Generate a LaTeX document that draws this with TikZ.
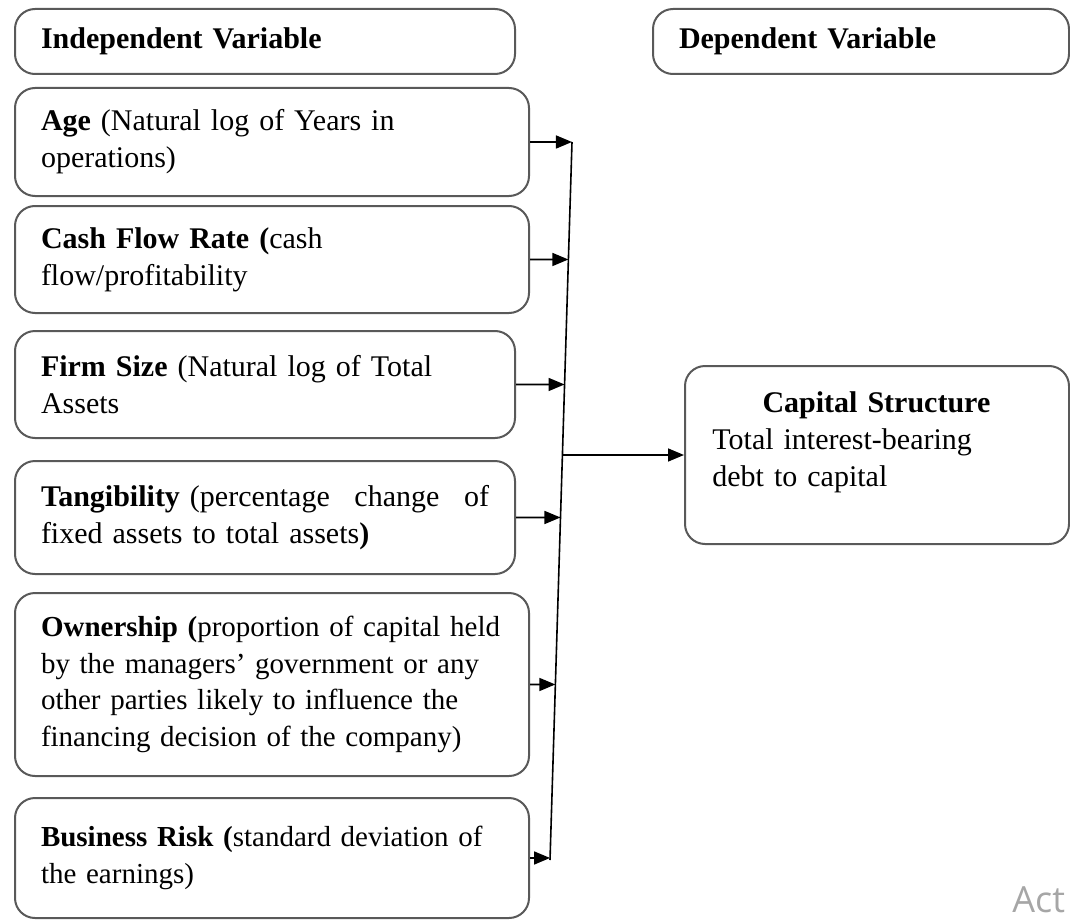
\documentclass[tikz,border=0pt]{standalone}
\usepackage{fontspec}
\setmainfont{Liberation Serif}
\newfontfamily\markfont{Open Sans}
\usetikzlibrary{arrows.meta}

\begin{document}
\begin{tikzpicture}[x=0.5pt,y=-0.5pt]
\tikzstyle{varbox}=[draw=black!65,line width=1pt,rounded corners=10pt,anchor=north west,inner xsep=13pt,inner ysep=0pt,align=left,font=\fontsize{15}{18.5}\selectfont]
\tikzstyle{wide}=[text width=231pt]
\tikzstyle{narrow}=[text width=224pt]
\tikzstyle{smalltext}=[font=\fontsize{14.5}{18.3}\selectfont]
\tikzstyle{arrow}=[line width=0.8pt,-{Triangle[length=8pt,width=6.5pt]}]
\useasboundingbox (0,0) rectangle (1070,920);
% headers
\node [varbox,narrow,minimum height=32.5pt] at (14,8) (indep) {\textbf{Independent Variable}};
\node [varbox,text width=182pt,minimum height=32.5pt] at (652,8) (dep) {\textbf{Dependent Variable}};
% independent variables
\node [varbox,wide,minimum height=54pt] at (14,87) (age) {\textbf{Age} (Natural log of Years in\\operations)};
\node [varbox,wide,minimum height=53.5pt] at (14,205) (cash) {\textbf{Cash Flow Rate (}cash\\flow/profitability};
\node [varbox,narrow,minimum height=53.5pt] at (14,330) (size) {\textbf{Firm Size} (Natural log of Total\\Assets};
\node [varbox,narrow,minimum height=56.5pt] at (14,460) (tang) {\textbf{Tangibility} (percentage\hfill change\hfill of\\fixed assets to total assets\textbf{)}};
\node [varbox,wide,smalltext,minimum height=91.5pt] at (14,592) (own) {\textbf{Ownership (}proportion of capital held\\by the managers’ government or any\\other parties likely to influence the\\financing decision of the company)};
\node [varbox,wide,smalltext,minimum height=60pt] at (14,797) (risk) {\textbf{Business Risk (}standard deviation of\\the earnings)};
% dependent variable
\node [varbox,text width=166pt,minimum height=89pt] at (684,365) (cap) {};
\node [anchor=north west,inner sep=0pt,text width=164pt,align=left,font=\fontsize{15}{18.5}\selectfont] at (712,391) (captext) {\makebox[164pt]{\textbf{Capital Structure}}\\Total interest-bearing\\debt to capital};
% connectors
\coordinate (ltop) at (572,142);
\coordinate (lbot) at (550,860);
\draw [line width=0.8pt] (ltop) -- (lbot);
\draw [arrow] (age.east) -- (intersection of ltop--lbot and age.west--age.east);
\draw [arrow] (cash.east) -- (intersection of ltop--lbot and cash.west--cash.east);
\draw [arrow] (size.east) -- (intersection of ltop--lbot and size.west--size.east);
\draw [arrow] (tang.east) -- (intersection of ltop--lbot and tang.west--tang.east);
\draw [arrow] (own.east) -- (intersection of ltop--lbot and own.west--own.east);
\draw [arrow] (risk.east) -- (intersection of ltop--lbot and risk.west--risk.east);
\draw [arrow] (intersection of ltop--lbot and cap.west--cap.east) -- (cap.west);
\node [anchor=base west,inner sep=0pt,font=\markfont\fontsize{18}{18}\selectfont,text=black!35] at (1012,912) (act) {Act};
\end{tikzpicture}
\end{document}
